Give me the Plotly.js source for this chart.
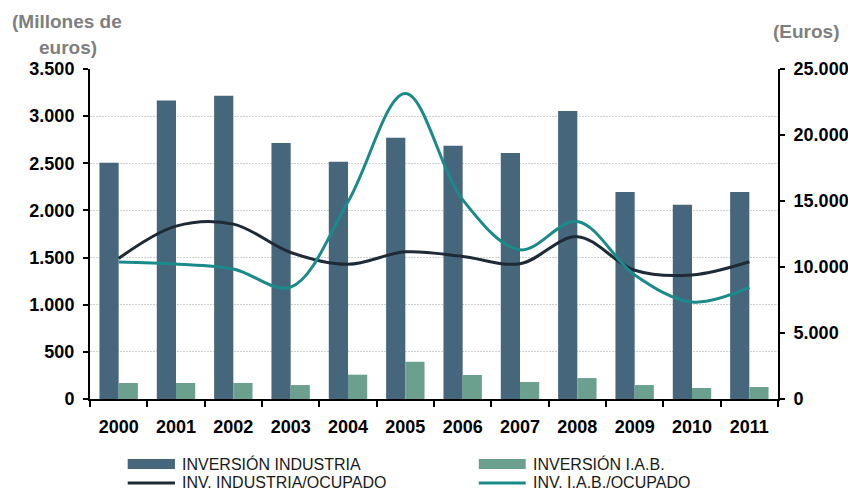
<!DOCTYPE html>
<html>
<head>
<meta charset="utf-8">
<script src="https://cdn.plot.ly/plotly-3.0.1.min.js"></script>
<style>
html,body{margin:0;padding:0;background:#fff;}
#chart{width:848px;height:493px;}
</style>
</head>
<body>
<div id="chart"></div>
<script>
const years = ['2000','2001','2002','2003','2004','2005','2006','2007','2008','2009','2010','2011'];
const seriesNames = ['INVERSIÓN INDUSTRIA', 'INVERSIÓN I.A.B.', 'INV. INDUSTRIA/OCUPADO', 'INV. I.A.B./OCUPADO'];
const inversionIndustria = [2505, 3165, 3215, 2715, 2515, 2770, 2685, 2610, 3055, 2195, 2060, 2195];
const inversionIAB = [170, 170, 170, 148, 258, 395, 255, 180, 222, 148, 117, 127];
const invIndustriaOcupado = [10650, 13100, 13250, 11100, 10200, 11150, 10800, 10250, 12300, 9750, 9400, 10400];
const invIABOcupado = [10380, 10230, 9850, 8480, 14950, 23150, 15100, 11300, 13450, 9400, 7350, 8450];
const leftTicks = [0, 500, 1000, 1500, 2000, 2500, 3000, 3500];
const rightTicks = [0, 5000, 10000, 15000, 20000, 25000];

const FAM = "'Liberation Sans', Arial, Helvetica, sans-serif";
const tickFont = {family: FAM, size: 18, color: '#000', weight: 'bold'};
const titleFont = {family: FAM, size: 19, color: '#7f7f7f', weight: 'bold'};
const legendFont = {family: FAM, size: 16, color: '#1a1a1a'};
const colors = ['#46667c', '#6aa08d', '#1e2a36', '#1b8a8b'];

const traces = [
  {type: 'bar', name: seriesNames[0], x: years, y: inversionIndustria,
   marker: {color: colors[0]}, yaxis: 'y'},
  {type: 'bar', name: seriesNames[1], x: years, y: inversionIAB,
   marker: {color: colors[1]}, yaxis: 'y'},
  {type: 'scatter', mode: 'lines', name: seriesNames[2], x: years, y: invIndustriaOcupado,
   line: {color: colors[2], width: 3, shape: 'spline', smoothing: 1}, yaxis: 'y2'},
  {type: 'scatter', mode: 'lines', name: seriesNames[3], x: years, y: invIABOcupado,
   line: {color: colors[3], width: 3, shape: 'spline', smoothing: 1}, yaxis: 'y2'}
];

// Legend drawn as shapes + text below the plot (wide swatches, two columns)
const legCols = [[0.0548, 0.1235, 0.1308], [0.5651, 0.6333, 0.641]]; // swatch x0, x1, text x (paper)
const legRows = [-0.197, -0.2545]; // row centers (paper)
const shapes = [];
const legendAnn = [];
seriesNames.forEach(function (nm, i) {
  const col = legCols[i % 2], rowY = legRows[Math.floor(i / 2)];
  if (i < 2) {
    shapes.push({type: 'rect', xref: 'paper', yref: 'paper', x0: col[0], x1: col[1],
      y0: rowY - 0.015, y1: rowY + 0.015, fillcolor: colors[i], line: {width: 0}});
  } else {
    shapes.push({type: 'line', xref: 'paper', yref: 'paper', x0: col[0], x1: col[1],
      y0: rowY, y1: rowY, line: {color: colors[i], width: 3}});
  }
  legendAnn.push({text: nm, xref: 'paper', yref: 'paper', x: col[2], y: rowY,
    xanchor: 'left', yanchor: 'middle', showarrow: false, font: legendFont});
});

const layout = {
  width: 848, height: 493,
  margin: {l: 90, r: 70, t: 69, b: 94, autoexpand: false},
  paper_bgcolor: '#fff', plot_bgcolor: '#fff',
  separators: ',.',
  barmode: 'group', bargap: 0.33, bargroupgap: 0,
  showlegend: false,
  xaxis: {
    type: 'category', tickvals: years, ticktext: years,
    showline: true, linecolor: '#000', linewidth: 2,
    ticks: 'outside', tickson: 'boundaries', ticklen: 6, tickwidth: 2, tickcolor: '#000',
    tickfont: tickFont, ticklabelstandoff: 10,
    showgrid: false, zeroline: false, fixedrange: true
  },
  yaxis: {
    range: [0, 3500], tickvals: leftTicks, tickformat: ',d',
    showline: true, linecolor: '#000', linewidth: 2,
    ticks: 'outside', ticklen: 5, tickwidth: 2, tickcolor: '#000',
    tickfont: tickFont, ticklabelstandoff: 5,
    showgrid: true, gridcolor: '#d0d0d0', gridwidth: 1, griddash: '2px,1px',
    zeroline: false, fixedrange: true
  },
  yaxis2: {
    overlaying: 'y', side: 'right', anchor: 'x',
    range: [0, 25000], tickvals: rightTicks, tickformat: ',d',
    showline: true, linecolor: '#000', linewidth: 2,
    ticks: 'outside', ticklen: 5, tickwidth: 2, tickcolor: '#000',
    tickfont: tickFont, ticklabelstandoff: 5,
    showgrid: false, zeroline: false, fixedrange: true
  },
  shapes: shapes,
  annotations: [
    {text: '(Millones de', xref: 'paper', yref: 'paper', x: -0.033, y: 1.143,
     xanchor: 'center', yanchor: 'middle', showarrow: false, font: titleFont},
    {text: 'euros)', xref: 'paper', yref: 'paper', x: -0.032, y: 1.066,
     xanchor: 'center', yanchor: 'middle', showarrow: false, font: titleFont},
    {text: '(Euros)', xref: 'paper', yref: 'paper', x: 1.042, y: 1.113,
     xanchor: 'center', yanchor: 'middle', showarrow: false, font: titleFont}
  ].concat(legendAnn)
};

Plotly.newPlot('chart', traces, layout, {displayModeBar: false, staticPlot: true});
</script>
</body>
</html>
